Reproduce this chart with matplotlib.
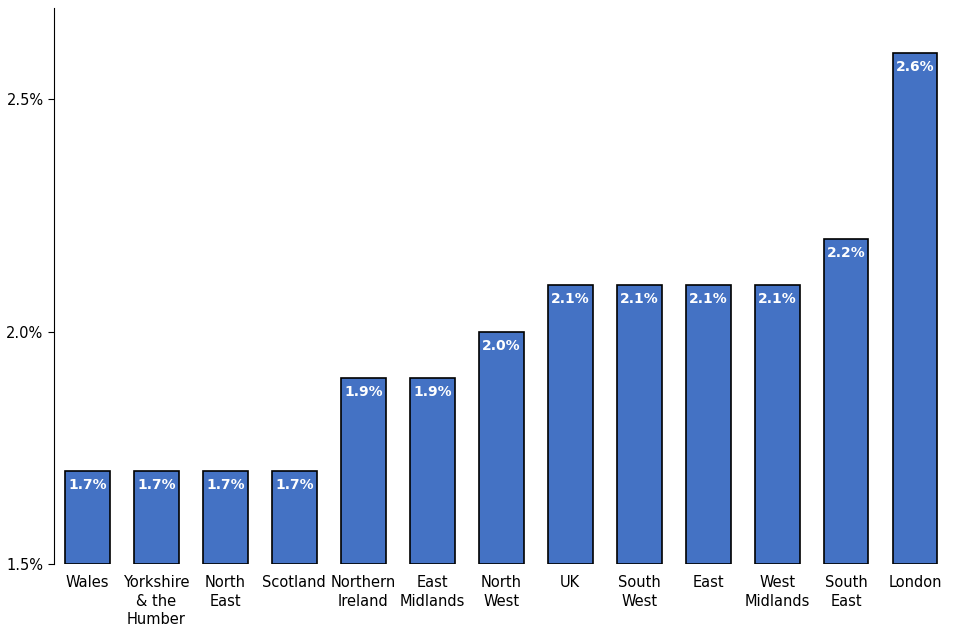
import matplotlib.pyplot as plt

regions = ["Wales", "Yorkshire\n& the\nHumber", "North\nEast", "Scotland", "Northern\nIreland",
           "East\nMidlands", "North\nWest", "UK", "South\nWest", "East", "West\nMidlands",
           "South\nEast", "London"]
values = [1.7, 1.7, 1.7, 1.7, 1.9, 1.9, 2.0, 2.1, 2.1, 2.1, 2.1, 2.2, 2.6]
yticks = [1.5, 2.0, 2.5]

fig = plt.figure(figsize=(9.59, 6.36), dpi=100)
ax = fig.add_axes([54/959, 72/636, (948.5-54)/959, (564-8)/636])

x = range(len(regions))
bars = ax.bar(x, [v - 1.5 for v in values], bottom=1.5, width=0.65,
              color="#4472C4", edgecolor="black", linewidth=1.2)
for xi, v in zip(x, values):
    ax.text(xi, v - 0.015, "%.1f%%" % v, ha="center", va="top",
            color="white", fontweight="bold", fontsize=10)

ax.set_xlim(-0.485, len(regions) - 0.515)
ax.set_ylim(1.5, 2.696)
ax.set_yticks(yticks)
ax.set_yticklabels(["%.1f%%" % t for t in yticks], fontsize=10.5)
ax.set_xticks(list(x))
ax.set_xticklabels(regions, fontsize=10.5, linespacing=1.3)
ax.tick_params(axis="x", length=0, pad=8)
ax.tick_params(axis="y", length=4)
for s in ["top", "right", "bottom"]:
    ax.spines[s].set_visible(False)

fig.savefig("out.png")
